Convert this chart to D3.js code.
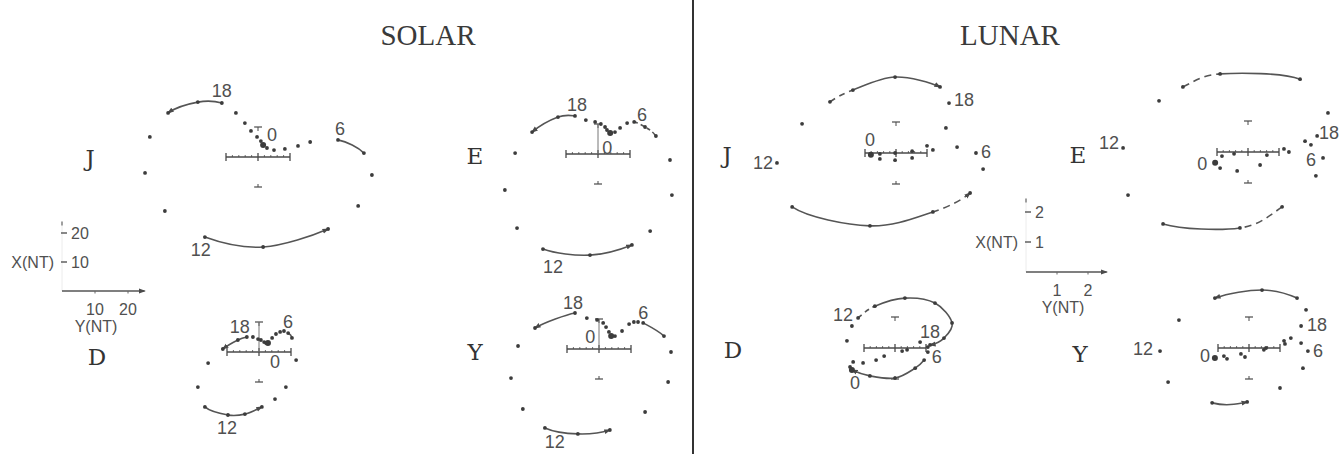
<!DOCTYPE html>
<html>
<head>
<meta charset="utf-8">
<script src="https://cdn.jsdelivr.net/npm/d3@7"></script>
<style>
  body { margin: 0; background: #fff; }
  svg { display: block; }
</style>
</head>
<body>
<svg id="chart" width="1340" height="454"></svg>
<script>
// Hourly harmonic dials (hours 0..23). Y = east component, X = north component (nT);
// X is plotted downward-positive, as on the original dial scales.
const hours = d3.range(24);

// ---- Solar daily variation (nT) ----
const solarJ_Y = [1.6, 2.8, 5.0, 8.4, 12.5, 16.3, 25.0, 33.1, 35.6, 31.3, 21.9, 1.6, -16.6, -29.1, -35.3, -33.8, -28.1, -18.8, -11.3, -6.9, -4.1, -2.2, -0.3, 0.9];
const solarJ_X = [-4.0, -3.0, -2.3, -2.7, -3.7, -5.0, -5.7, -1.3, 6.0, 16.3, 24.0, 30.0, 26.7, 18.0, 5.3, -6.7, -14.7, -18.3, -18.0, -14.7, -11.3, -8.7, -6.7, -5.3];

const solarE_Y = [3.8, 5.3, 6.9, 9.1, 11.3, 14.7, 18.1, 22.5, 23.1, 16.3, 10.6, -2.5, -17.2, -25.3, -29.1, -25.9, -20.6, -12.5, -7.2, -3.8, -0.9, 0.9, 2.2, 2.8];
const solarE_X = [-7.0, -7.3, -8.7, -10.3, -10.7, -9.0, -6.0, 2.0, 13.7, 25.7, 30.3, 33.7, 31.7, 24.7, 12.0, -0.3, -7.3, -12.3, -12.7, -11.3, -10.7, -10.0, -9.0, -8.0];

const solarD_Y = [2.8, 4.1, 5.3, 6.6, 7.8, 9.1, 10.3, 11.6, 8.4, 5.0, 0.9, -4.4, -9.7, -16.9, -19.1, -15.9, -11.3, -6.6, -3.8, -1.9, -0.3, 0.6, 1.6, 2.2];
const solarD_X = [-3.0, -4.7, -6.0, -6.7, -7.0, -6.3, -4.7, 2.7, 11.7, 15.7, 18.3, 20.7, 21.0, 18.3, 11.7, 3.7, -1.0, -4.0, -5.0, -5.0, -4.3, -4.0, -3.3, -3.0];

const solarY_Y = [3.8, 5.0, 7.2, 9.4, 10.9, 12.2, 13.8, 20.3, 22.5, 21.6, 14.4, 3.4, -6.6, -16.9, -23.8, -27.5, -25.3, -20.0, -7.5, -3.8, -0.6, 1.3, 2.2, 3.1];
const solarY_X = [-4.3, -4.3, -6.0, -8.3, -9.0, -9.0, -8.7, -4.3, 1.0, 11.0, 21.0, 27.0, 28.3, 26.3, 20.0, 9.7, -1.0, -7.0, -12.0, -10.3, -9.7, -8.7, -7.3, -5.7];

// ---- Lunar daily variation (nT) ----
const lunarJ_Y = [-0.81, -0.52, -0.03, 0.52, 1.19, 1.97, 2.58, 2.81, 2.39, 1.19, -0.84, -3.35, -3.84, -3.03, -2.13, -1.39, -0.03, 1.42, 1.71, 1.61, 1.00, 0.52, -0.03, -0.52];
const lunarJ_X = [0.06, 0.19, 0.23, 0.16, -0.10, -0.19, 0.00, 0.52, 1.29, 1.90, 2.35, 1.74, 0.32, -0.94, -1.65, -2.03, -2.45, -2.13, -1.61, -0.81, -0.23, -0.06, 0.00, 0.03];

const lunarE_Y = [-1.06, -0.90, -0.35, 0.39, 1.32, 2.03, 2.42, 2.19, 1.10, -0.26, -2.74, -3.87, -4.03, -2.87, -2.10, -0.90, 1.68, 2.58, 2.23, 1.84, 1.16, 0.61, -0.45, -0.84];
const lunarE_X = [0.35, 0.52, 0.61, 0.42, 0.00, -0.23, 0.19, 0.77, 1.77, 2.45, 2.32, 1.39, -0.13, -1.65, -2.10, -2.52, -2.35, -1.26, -0.52, -0.35, -0.10, 0.10, 0.06, 0.13];

const lunarD_Y = [-1.39, -0.81, 0.00, 0.65, 0.94, 1.06, 1.06, 0.39, -0.35, -1.03, -1.55, -1.39, -1.19, -0.65, 0.32, 1.29, 1.84, 1.58, 1.13, 0.81, 0.23, -0.61, -1.35, -1.45];
const lunarD_X = [0.71, 0.90, 0.97, 0.65, 0.39, 0.13, -0.03, 0.06, 0.26, 0.48, -0.23, -0.71, -0.97, -1.35, -1.61, -1.45, -0.81, -0.32, -0.10, -0.19, 0.10, 0.39, 0.45, 0.61];

const lunarY_Y = [-1.10, -0.81, -0.26, 0.48, 1.16, 1.68, 1.90, 1.74, 1.00, -0.06, -1.19, -2.61, -2.87, -2.26, -1.10, 0.42, 1.55, 1.84, 1.68, 1.35, 1.13, 0.55, -0.13, -0.71];
const lunarY_X = [0.32, 0.26, 0.19, 0.06, -0.13, -0.16, 0.10, 0.65, 1.29, 1.74, 1.77, 1.10, 0.10, -0.90, -1.61, -1.87, -1.61, -1.23, -0.71, -0.32, -0.23, 0.00, 0.29, 0.35];

// Legend tick values
const solarLegendY = [10, 20];
const solarLegendX = [-10, -20];
const lunarLegendY = [1, 2];
const lunarLegendX = [-1, -2];

const titles = ["SOLAR", "LUNAR"];

// ---- layout ----
const units = {
  solar: { kx: 3.2, ky: 3.0, bar: 10 },
  lunar: { kx: 31, ky: 31, bar: 1 }
};

const panels = [
  { group: "solar", name: "J", Y: solarJ_Y, X: solarJ_X, cx: 258, cy: 157, lx: 90, ly: 158, vline: false,
    arcs: [{ from: 6, to: 7 }, { from: 10, to: 12, arrow: "start" }, { from: 16, to: 18, arrow: "start" }],
    labels: [{ t: "0", h: 0, dx: 9, dy: -10 }, { t: "6", h: 6, dx: 2, dy: -11 }, { t: "12", h: 12, dx: -4, dy: 13 }, { t: "18", h: 18, dx: 0, dy: -12 }] },
  { group: "solar", name: "E", Y: solarE_Y, X: solarE_X, cx: 598, cy: 154, lx: 475, ly: 156, vline: true,
    arcs: [{ from: 4, to: 6, dash: "4,3" }, { from: 10, to: 12, arrow: "start" }, { from: 16, to: 18, arrow: "start" }],
    labels: [{ t: "0", h: 0, dx: -3, dy: 15 }, { t: "6", h: 6, dx: -14, dy: -21 }, { t: "12", h: 12, dx: 10, dy: 18 }, { t: "18", h: 18, dx: 2, dy: -11 }] },
  { group: "solar", name: "D", Y: solarD_Y, X: solarD_X, cx: 259, cy: 352, lx: 97, ly: 357, vline: true,
    arcs: [{ from: 5, to: 6 }, { from: 10, to: 13, arrow: "start" }, { from: 16, to: 18, arrow: "start" }],
    labels: [{ t: "0", h: 0, dx: 7, dy: 19 }, { t: "6", h: 6, dx: -4, dy: -16 }, { t: "12", h: 12, dx: -1, dy: 13 }, { t: "18", h: 18, dx: -7, dy: -10 }] },
  { group: "solar", name: "Y", Y: solarY_Y, X: solarY_X, cx: 599, cy: 349, lx: 475, ly: 352, vline: true,
    arcs: [{ from: 6, to: 7 }, { from: 11, to: 13, arrow: "start" }, { from: 17, to: 18, arrow: "start" }],
    labels: [{ t: "0", h: 0, dx: -21, dy: 1 }, { t: "6", h: 6, dx: 0, dy: -10 }, { t: "12", h: 12, dx: -23, dy: 8 }, { t: "18", h: 18, dx: -2, dy: -10 }] },

  { group: "lunar", name: "J", Y: lunarJ_Y, X: lunarJ_X, cx: 896, cy: 153, lx: 727, ly: 155, vline: false,
    arcs: [{ from: 8, to: 9, dash: "7,5", arrow: "start" }, { from: 9, to: 11 }, { from: 14, to: 15, dash: "6,5" }, { from: 15, to: 17, arrow: "end" }],
    labels: [{ t: "0", h: 0, dx: -1, dy: -15 }, { t: "6", h: 6, dx: 10, dy: -1 }, { t: "12", h: 12, dx: -14, dy: 0 }, { t: "18", h: 18, dx: 15, dy: -3 }] },
  { group: "lunar", name: "E", Y: lunarE_Y, X: lunarE_X, cx: 1248, cy: 152, lx: 1078, ly: 155, vline: false,
    arcs: [{ from: 8, to: 9, dash: "7,5" }, { from: 9, to: 10 }, { from: 14, to: 15, dash: "7,5" }, { from: 15, to: 16 }],
    labels: [{ t: "0", h: 0, dx: -13, dy: 1 }, { t: "6", h: 6, dx: -12, dy: 2 }, { t: "12", h: 12, dx: -14, dy: -5 }, { t: "18", h: 18, dx: 12, dy: -3 }] },
  { group: "lunar", name: "D", Y: lunarD_Y, X: lunarD_X, cx: 895, cy: 348, lx: 733, ly: 350, vline: false,
    arcs: [{ from: 0, to: 4, arrow: "start" }, { from: 12, to: 13, dash: "5,4" }, { from: 13, to: 18, arrow: "end" }],
    labels: [{ t: "0", h: 0, dx: 3, dy: 13 }, { t: "6", h: 6, dx: 9, dy: 10 }, { t: "12", h: 12, dx: -15, dy: -3 }, { t: "18", h: 18, dx: 0, dy: -13 }] },
  { group: "lunar", name: "Y", Y: lunarY_Y, X: lunarY_X, cx: 1249, cy: 348, lx: 1080, ly: 354, vline: false,
    arcs: [{ from: 9, to: 10, arrow: "start" }, { from: 14, to: 16, arrow: "start" }],
    labels: [{ t: "0", h: 0, dx: -10, dy: -2 }, { t: "6", h: 6, dx: 10, dy: 0 }, { t: "12", h: 12, dx: -17, dy: -2 }, { t: "18", h: 18, dx: 16, dy: -1 }] }
];

const ink = "#4a4a4a";
const textInk = "#505050";
const numFont = "'Liberation Sans', Arial, sans-serif";

const svg = d3.select("#chart");
svg.append("rect").attr("width", 1340).attr("height", 454).attr("fill", "#fff");

svg.append("defs").append("marker")
  .attr("id", "arrowhead")
  .attr("viewBox", "0 0 10 10")
  .attr("refX", 8).attr("refY", 5)
  .attr("markerWidth", 7).attr("markerHeight", 7)
  .attr("markerUnits", "userSpaceOnUse")
  .attr("orient", "auto-start-reverse")
  .append("path").attr("d", "M0,1.5L10,5L0,8.5Z").attr("fill", ink);

// Smooth segment through consecutive hourly points (Catmull-Rom as cubic Beziers)
function arcPath(pts, from, to) {
  const n = pts.length;
  const P = i => pts[(i + n) % n];
  const p = d3.path();
  p.moveTo(P(from)[0], P(from)[1]);
  for (let k = from; k < to; k++) {
    const p0 = P(k - 1), p1 = P(k), p2 = P(k + 1), p3 = P(k + 2);
    p.bezierCurveTo(
      p1[0] + (p2[0] - p0[0]) / 6, p1[1] + (p2[1] - p0[1]) / 6,
      p2[0] - (p3[0] - p1[0]) / 6, p2[1] - (p3[1] - p1[1]) / 6,
      p2[0], p2[1]);
  }
  return p.toString();
}

// ---- titles and divider ----
svg.selectAll("text.title").data(titles).join("text")
  .attr("class", "title")
  .attr("x", (d, i) => i === 0 ? 428 : 1010)
  .attr("y", 45)
  .attr("text-anchor", "middle")
  .attr("font-family", "'Liberation Serif', 'Times New Roman', serif")
  .attr("font-size", 29)
  .attr("fill", "#3a3a3a")
  .text(d => d);

svg.append("line").attr("x1", 693).attr("x2", 693).attr("y1", 0).attr("y2", 454)
  .attr("stroke", "#333").attr("stroke-width", 2);

// ---- dials ----
panels.forEach(p => {
  const u = units[p.group];
  const sx = d3.scaleLinear().domain([0, u.bar]).range([p.cx, p.cx + u.kx * u.bar]);
  const sy = d3.scaleLinear().domain([0, u.bar]).range([p.cy, p.cy + u.ky * u.bar]);
  const pts = hours.map(h => [sx(p.Y[h]), sy(p.X[h])]);
  const g = svg.append("g").attr("class", "dial");

  // scale bar along Y with minor ticks
  g.append("line").attr("x1", sx(-u.bar)).attr("x2", sx(u.bar)).attr("y1", p.cy).attr("y2", p.cy)
    .attr("stroke", ink).attr("stroke-width", 1.6);
  const minor = d3.ticks(-u.bar, u.bar, 10).filter(v => Math.abs(v) < u.bar && v !== 0);
  g.selectAll("line.minor").data(minor).join("line").attr("class", "minor")
    .attr("x1", v => sx(v)).attr("x2", v => sx(v))
    .attr("y1", p.cy - 2).attr("y2", p.cy)
    .attr("stroke", ink).attr("stroke-width", 0.8);
  [-u.bar, 0, u.bar].forEach(v => {
    g.append("line").attr("x1", sx(v)).attr("x2", sx(v))
      .attr("y1", p.cy - 4).attr("y2", p.cy + 4)
      .attr("stroke", ink).attr("stroke-width", 1.3);
  });

  // X scale end marks (T above, inverted T below)
  const top = sy(-u.bar), bot = sy(u.bar), c = sx(0);
  g.append("line").attr("x1", c - 4).attr("x2", c + 4).attr("y1", top).attr("y2", top).attr("stroke", ink).attr("stroke-width", 1.2);
  g.append("line").attr("x1", c).attr("x2", c).attr("y1", top).attr("y2", top + 4).attr("stroke", ink).attr("stroke-width", 1);
  g.append("line").attr("x1", c - 4).attr("x2", c + 4).attr("y1", bot).attr("y2", bot).attr("stroke", ink).attr("stroke-width", 1.2);
  g.append("line").attr("x1", c).attr("x2", c).attr("y1", bot).attr("y2", bot - 3).attr("stroke", ink).attr("stroke-width", 1);
  if (p.vline) {
    g.append("line").attr("x1", c).attr("x2", c).attr("y1", p.cy).attr("y2", top)
      .attr("stroke", "#777").attr("stroke-width", 1);
  }

  // arcs
  g.selectAll("path.arc").data(p.arcs).join("path")
    .attr("class", "arc")
    .attr("d", a => arcPath(pts, a.from, a.to))
    .attr("fill", "none")
    .attr("stroke", "#555")
    .attr("stroke-width", 1.6)
    .attr("stroke-dasharray", a => a.dash || null)
    .attr("marker-start", a => a.arrow === "start" ? "url(#arrowhead)" : null)
    .attr("marker-end", a => a.arrow === "end" ? "url(#arrowhead)" : null);

  // hourly points
  g.selectAll("circle").data(hours).join("circle")
    .attr("cx", h => pts[h][0])
    .attr("cy", h => pts[h][1])
    .attr("r", h => h === 0 ? 3 : 1.9)
    .attr("fill", "#3c3c3c");

  // hour labels
  g.selectAll("text.hour").data(p.labels).join("text")
    .attr("class", "hour")
    .attr("x", l => pts[l.h][0] + l.dx)
    .attr("y", l => pts[l.h][1] + l.dy)
    .attr("text-anchor", "middle")
    .attr("dominant-baseline", "central")
    .attr("font-family", numFont)
    .attr("font-size", 18)
    .attr("fill", textInk)
    .text(l => l.t);

  // component letter
  g.append("text")
    .attr("x", p.lx).attr("y", p.ly)
    .attr("text-anchor", "middle")
    .attr("dominant-baseline", "central")
    .attr("font-family", "'DejaVu Serif', serif")
    .attr("font-size", 23)
    .attr("fill", "#333")
    .text(p.name);
});

// ---- scale legends ----
function legend(o) {
  const sx = d3.scaleLinear().domain([0, 1]).range([o.x0, o.x0 + o.k]);
  const sy = d3.scaleLinear().domain([0, 1]).range([o.y0, o.y0 + o.ky]);
  const g = svg.append("g").attr("class", "legend");
  // faint X axis with a small tip
  g.append("line").attr("x1", o.x0).attr("x2", o.x0).attr("y1", o.y0).attr("y2", sy(o.xTop))
    .attr("stroke", "#ececec").attr("stroke-width", 1);
  g.append("line").attr("x1", o.x0).attr("x2", o.x0).attr("y1", sy(o.xTop)).attr("y2", sy(o.xTop) + 4)
    .attr("stroke", "#666").attr("stroke-width", 1.2);
  // Y arrow
  g.append("line").attr("x1", o.x0).attr("x2", sx(o.yEnd)).attr("y1", o.y0).attr("y2", o.y0)
    .attr("stroke", "#555").attr("stroke-width", 1.6)
    .attr("marker-end", "url(#arrowhead)");
  g.selectAll("line.yt").data(o.yTicks).join("line").attr("class", "yt")
    .attr("x1", d => sx(d)).attr("x2", d => sx(d)).attr("y1", o.y0).attr("y2", o.y0 + 2.5)
    .attr("stroke", "#666");
  g.selectAll("text.yl").data(o.yTicks).join("text").attr("class", "yl")
    .attr("x", d => sx(d)).attr("y", o.y0 + o.tickDy)
    .attr("text-anchor", "middle").attr("dominant-baseline", "central")
    .attr("font-family", numFont).attr("font-size", 16).attr("fill", textInk)
    .text(d => d);
  g.append("text").attr("x", o.yLabelX).attr("y", o.y0 + o.yLabelDy)
    .attr("text-anchor", "middle").attr("dominant-baseline", "central")
    .attr("font-family", numFont).attr("font-size", 16).attr("fill", textInk)
    .text("Y(NT)");
  // X ticks
  g.selectAll("line.xt").data(o.xTicks).join("line").attr("class", "xt")
    .attr("x1", o.x0 - 1).attr("x2", o.x0 + 5).attr("y1", d => sy(d)).attr("y2", d => sy(d))
    .attr("stroke", "#555").attr("stroke-width", 1.4);
  g.selectAll("text.xl").data(o.xTicks).join("text").attr("class", "xl")
    .attr("x", o.x0 + 9).attr("y", d => sy(d))
    .attr("text-anchor", "start").attr("dominant-baseline", "central")
    .attr("font-family", numFont).attr("font-size", 16).attr("fill", textInk)
    .text(d => Math.abs(d));
  g.append("text").attr("x", o.x0 - 8).attr("y", sy(o.xTicks[0]))
    .attr("text-anchor", "end").attr("dominant-baseline", "central")
    .attr("font-family", numFont).attr("font-size", 16).attr("fill", textInk)
    .text("X(NT)");
}

legend({ x0: 62, y0: 291, k: 3.3, ky: 2.9, yTicks: solarLegendY, xTicks: solarLegendX, yEnd: 25, xTop: -24,
         tickDy: 18, yLabelX: 96, yLabelDy: 35 });
legend({ x0: 1026, y0: 272, k: 31, ky: 30, yTicks: lunarLegendY, xTicks: lunarLegendX, yEnd: 2.6, xTop: -2.45,
         tickDy: 18, yLabelX: 1063, yLabelDy: 35 });
</script>
</body>
</html>
